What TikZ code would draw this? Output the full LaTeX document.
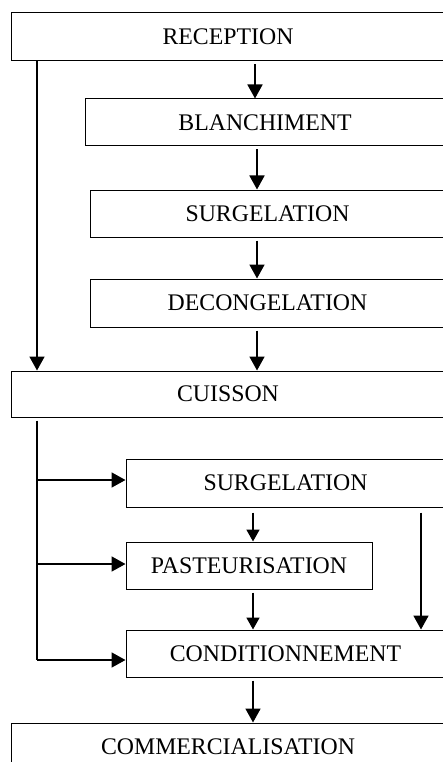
\documentclass[tikz,border=0pt]{standalone}
\usepackage{fontspec}
\setmainfont{Liberation Serif}
\usetikzlibrary{arrows.meta}
\begin{document}
\begin{tikzpicture}[x=1pt,y=-1pt,
  box/.style={draw,line width=1pt,rectangle,inner sep=0pt,font=\fontsize{23.8}{28}\selectfont},
  arr/.style={line width=1.8pt,-{Triangle[length=14pt,width=15pt]}},
  sarr/.style={line width=1.8pt,-{Triangle[length=12pt,width=13pt]}},
  ln/.style={line width=1.8pt}]
\useasboundingbox (0,0) rectangle (443,762);
\node[box,minimum width=434pt,minimum height=48pt] (rec) at (228,37) {RECEPTION};
\node[box,minimum width=360pt,minimum height=47pt] (bla) at (265,122.5) {BLANCHIMENT};
\node[box,minimum width=355pt,minimum height=47pt] (sur) at (267.5,213.5) {SURGELATION};
\node[box,minimum width=355pt,minimum height=48pt] (dec) at (267.5,303) {DECONGELATION};
\node[box,minimum width=434pt,minimum height=46pt] (cui) at (228,394) {CUISSON};
\node[box,minimum width=319pt,minimum height=48pt] (sur2) at (285.5,483) {SURGELATION};
\node[box,minimum width=246pt,minimum height=47pt] (pas) at (249,565.5) {PASTEURISATION};
\node[box,minimum width=319pt,minimum height=47pt] (con) at (285.5,653.5) {CONDITIONNEMENT};
\node[box,minimum width=434pt,minimum height=48pt] (com) at (228,747) {COMMERCIALISATION};
\coordinate (xa) at (255,0);
\coordinate (xb) at (257,0);
\coordinate (xc) at (253,0);
\coordinate (xl) at (37,0);
\coordinate (xr) at (421,0);
\coordinate (b1) at (37,480);
\coordinate (b2) at (37,564);
\coordinate (bend) at (37,660);
\draw[arr,shorten <=3pt] (rec.south -| xa) -- (bla.north -| xa);
\draw[arr,shorten <=3pt] (bla.south -| xb) -- (sur.north -| xb);
\draw[arr,shorten <=3pt] (sur.south -| xb) -- (dec.north -| xb);
\draw[arr,shorten <=3pt] (dec.south -| xb) -- (cui.north -| xb);
\draw[arr] (rec.south -| xl) -- (cui.north -| xl);
\draw[ln,shorten <=3pt] (cui.south -| xl) -- (bend);
\draw[arr] (bend) -- (bend -| con.west);
\draw[arr] (b1) -- (b1 -| sur2.west);
\draw[arr] (b2) -- (b2 -| pas.west);
\draw[sarr,shorten <=5pt] (sur2.south -| xc) -- (pas.north -| xc);
\draw[sarr,shorten <=3pt] (pas.south -| xc) -- (con.north -| xc);
\draw[arr,shorten <=5pt] (sur2.south -| xr) -- (con.north -| xr);
\draw[arr,shorten <=3pt] (con.south -| xc) -- (com.north -| xc);
\end{tikzpicture}
\end{document}
